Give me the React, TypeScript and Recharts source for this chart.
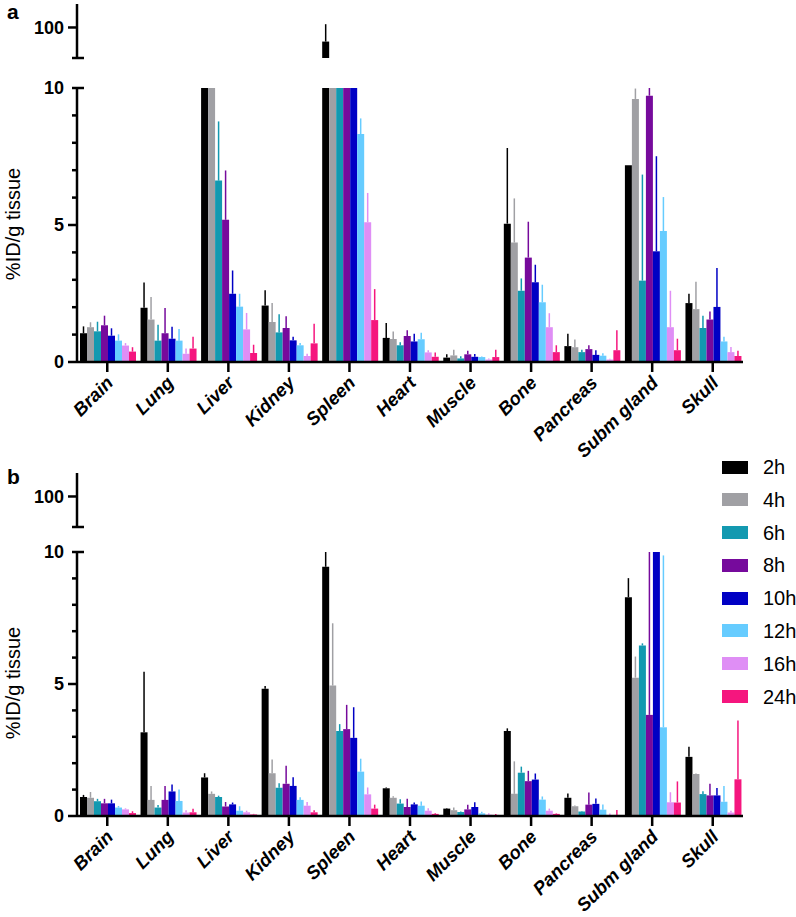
import React from 'react';
import { BarChart, Bar, XAxis, YAxis, ErrorBar, Legend } from 'recharts';

const organs = ['Brain', 'Lung', 'Liver', 'Kidney', 'Spleen', 'Heart', 'Muscle', 'Bone', 'Pancreas', 'Subm gland', 'Skull'];
const timepoints = ['2h', '4h', '6h', '8h', '10h', '12h', '16h', '24h'];
const seriesColors = ['#000000', '#a0a0a4', '#1399b0', '#760a9c', '#0000c4', '#66ccff', '#df8ef5', '#f5167e'];

const lowerTicks = [0, 1, 2, 3, 4, 5, 6, 7, 8, 9, 10];
const labeledTicks = [0, 5, 10];
const upperTicks = [74, 100];
const upperLabeled = [100];
const LOWER_MAX = 10;
const UPPER_MIN = 74;
const UPPER_MAX = 120;

// Panel a — means (%ID/g) per time point, organs in order
const a2h = [1.05, 1.98, 14, 2.06, 88, 0.88, 0.16, 5.05, 0.58, 7.18, 2.15];
const a4h = [1.27, 1.55, 12, 1.46, 16, 0.84, 0.24, 4.36, 0.54, 9.6, 1.93];
const a6h = [1.12, 0.78, 6.62, 1.08, 15, 0.61, 0.13, 2.6, 0.36, 2.97, 1.24];
const a8h = [1.34, 1.05, 5.19, 1.24, 14, 0.95, 0.28, 3.81, 0.47, 9.72, 1.55];
const a10h = [0.96, 0.85, 2.49, 0.79, 12, 0.75, 0.19, 2.91, 0.26, 4.04, 2.01];
const a12h = [0.78, 0.78, 2.02, 0.61, 8.32, 0.83, 0.18, 2.18, 0.23, 4.78, 0.75];
const a16h = [0.6, 0.3, 1.19, 0.22, 5.1, 0.35, 0.09, 1.27, 0.09, 1.27, 0.36];
const a24h = [0.38, 0.49, 0.33, 0.68, 1.53, 0.19, 0.18, 0.36, 0.43, 0.43, 0.22];
// Panel a — upper SD
const a2hSd = [0.25, 0.92, 0, 0.56, 14.8, 0.54, 0.12, 2.76, 0.45, 0, 0.34];
const a4hSd = [0.18, 0.82, 0, 0.69, 0, 0.27, 0.21, 1.61, 0.28, 0.38, 1.0];
const a6hSd = [0.35, 0.58, 2.16, 0.66, 0, 0.11, 0.08, 0.45, 0.09, 3.87, 0.45];
const a8hSd = [0.35, 0.92, 1.8, 0.43, 0, 0.21, 0.13, 1.31, 0.14, 0.5, 0.29];
const a10hSd = [0.27, 0.44, 0.85, 0.13, 0, 0.28, 0.1, 0.64, 0.17, 3.47, 1.42];
const a12hSd = [0.23, 0.42, 0.47, 0.08, 0.57, 0.24, 0.02, 0.64, 0.09, 1.24, 0.17];
const a16hSd = [0.09, 0.19, 0.6, 0.08, 1.07, 0.08, 0.04, 0.51, 0.03, 1.33, 0.19];
const a24hSd = [0.16, 0.43, 0.3, 0.72, 1.13, 0.16, 0.27, 0.25, 0.73, 0.42, 0.19];

// Panel b — means
const b2h = [0.72, 3.17, 1.46, 4.82, 9.44, 1.05, 0.28, 3.22, 0.69, 8.29, 2.24];
const b4h = [0.69, 0.61, 0.84, 1.62, 4.94, 0.69, 0.22, 0.84, 0.37, 5.24, 1.59];
const b6h = [0.56, 0.32, 0.72, 1.07, 3.22, 0.47, 0.15, 1.64, 0.17, 6.46, 0.83];
const b8h = [0.48, 0.61, 0.36, 1.22, 3.29, 0.34, 0.25, 1.32, 0.43, 3.83, 0.78];
const b10h = [0.48, 0.93, 0.44, 1.14, 2.96, 0.44, 0.34, 1.38, 0.46, 13, 0.78];
const b12h = [0.32, 0.57, 0.2, 0.61, 1.68, 0.39, 0.1, 0.62, 0.24, 3.36, 0.54];
const b16h = [0.25, 0.13, 0.14, 0.39, 0.82, 0.2, 0.05, 0.2, 0.04, 0.52, 0.13];
const b24h = [0.11, 0.14, 0.06, 0.14, 0.28, 0.08, 0.04, 0.08, 0.04, 0.51, 1.39];
// Panel b — upper SD
const b2hSd = [0.08, 2.29, 0.16, 0.1, 0.6, 0.03, 0.02, 0.1, 0.16, 0.72, 0.38];
const b4hSd = [0.22, 0.53, 0.09, 0.52, 2.36, 0.06, 0.1, 1.23, 0.03, 0.8, 0.02];
const b6hSd = [0.09, 0.1, 0.05, 0.17, 0.26, 0.16, 0.02, 0.23, 0.02, 0.08, 0.11];
const b8hSd = [0.17, 0.53, 0.17, 0.68, 0.92, 0.31, 0.18, 0.39, 0.46, 8.0, 0.44];
const b10hSd = [0.14, 0.26, 0.07, 0.33, 1.16, 0.07, 0.18, 0.23, 0.2, 0, 0.28];
const b12hSd = [0.06, 0.43, 0.17, 0.1, 0.49, 0.16, 0.06, 0.12, 0.2, 6.51, 0.6];
const b16hSd = [0.04, 0.09, 0.06, 0.14, 0.26, 0.09, 0.05, 0.08, 0.05, 0.38, 0.07];
const b24hSd = [0.07, 0.13, 0.02, 0.08, 0.15, 0.02, 0.04, 0.02, 0.19, 0.8, 2.23];

const panelA = { means: [a2h, a4h, a6h, a8h, a10h, a12h, a16h, a24h], sds: [a2hSd, a4hSd, a6hSd, a8hSd, a10hSd, a12hSd, a16hSd, a24hSd] };
const panelB = { means: [b2h, b4h, b6h, b8h, b10h, b12h, b16h, b24h], sds: [b2hSd, b4hSd, b6hSd, b8hSd, b10hSd, b12hSd, b16hSd, b24hSd] };

const FONT = '"Liberation Sans", Arial, Helvetica, sans-serif';

function lowerRows(p: { means: number[][]; sds: number[][] }) {
  return organs.map((organ, i) => {
    const row: any = { organ };
    timepoints.forEach((t, s) => {
      const v = p.means[s][i];
      const e = p.sds[s][i];
      const shown = Math.min(v, LOWER_MAX);
      const top = Math.min(v + e, LOWER_MAX);
      row['s' + s] = shown;
      row['e' + s] = [0, Math.max(0, top - shown)];
    });
    return row;
  });
}

function upperRows(p: { means: number[][]; sds: number[][] }) {
  return organs.map((organ, i) => {
    const row: any = { organ };
    timepoints.forEach((t, s) => {
      const v = p.means[s][i];
      const e = p.sds[s][i];
      if (v >= UPPER_MIN) {
        row['s' + s] = v;
        row['e' + s] = [0, e];
      } else {
        row['s' + s] = null;
      }
    });
    return row;
  });
}

const LowerYTick = (props: any) => {
  const { x, y, payload } = props;
  const v = payload.value;
  const labeled = labeledTicks.includes(v);
  const isTop = v === LOWER_MAX;
  return (
    <g>
      {isTop ? (
        <line x1={x - 5} x2={x + 7} y1={y} y2={y} stroke="#000" strokeWidth={2.5} />
      ) : (
        <line x1={x - (labeled ? 9 : 5)} x2={x} y1={y} y2={y} stroke="#000" strokeWidth={2.5} />
      )}
      {labeled && (
        <text x={x - 13} y={y} dy="0.36em" textAnchor="end" fontSize={18} fontWeight="bold" fontFamily={FONT} fill="#000">
          {v}
        </text>
      )}
    </g>
  );
};

const UpperYTick = (props: any) => {
  const { x, y, payload } = props;
  const v = payload.value;
  if (!upperLabeled.includes(v)) {
    return <line x1={x - 5} x2={x + 7} y1={y} y2={y} stroke="#000" strokeWidth={2.5} />;
  }
  return (
    <g>
      <line x1={x - 9} x2={x} y1={y} y2={y} stroke="#000" strokeWidth={2.5} />
      <text x={x - 13} y={y} dy="0.36em" textAnchor="end" fontSize={18} fontWeight="bold" fontFamily={FONT} fill="#000">
        {v}
      </text>
    </g>
  );
};

const XTick = (props: any) => {
  const { x, y, payload } = props;
  const tx = x + 7;
  const ty = y + 10;
  return (
    <text x={tx} y={ty} transform={`rotate(-45 ${tx} ${ty})`} textAnchor="end" fontSize={18.5} fontWeight="bold" fontStyle="italic" fontFamily={FONT} fill="#000">
      {payload.value}
    </text>
  );
};

const LegendContent = () => (
  <div style={{ fontFamily: FONT }}>
    {timepoints.map((t, s) => (
      <div key={t} style={{ display: 'flex', alignItems: 'center', height: 32.8 }}>
        <div style={{ width: 26, height: 13, background: seriesColors[s], marginRight: 15, flex: 'none' }} />
        <span style={{ fontSize: 20, color: '#000', lineHeight: '20px', whiteSpace: 'nowrap' }}>{t}</span>
      </div>
    ))}
  </div>
);

const bars = () =>
  timepoints.map((t, s) => (
    <Bar key={t} dataKey={'s' + s} name={t} fill={seriesColors[s]} isAnimationActive={false} legendType="rect">
      <ErrorBar dataKey={'e' + s} width={0} strokeWidth={1.5} stroke={seriesColors[s]} direction="y" />
    </Bar>
  ));

const Panel = ({ p, top, lowerTop, lowerHeight, xAxisHeight, upperHeight, upperMarginTop, showLegend }: any) => {
  const lower = lowerRows(p);
  const upper = upperRows(p);
  return (
    <>
      <div style={{ position: 'absolute', left: 0, top }}>
        <BarChart width={796} height={upperHeight} data={upper} margin={{ top: upperMarginTop, right: 53, bottom: upperHeight - upperMarginTop - 54, left: 0 }} barCategoryGap={3} barGap={0}>
          <XAxis dataKey="organ" hide />
          <YAxis
            width={77}
            domain={[UPPER_MIN, UPPER_MAX]}
            allowDataOverflow
            ticks={upperTicks}
            interval={0}
            tickLine={false}
            tickSize={0}
            tickMargin={0}
            axisLine={{ stroke: '#000', strokeWidth: 2.5 }}
            tick={<UpperYTick />}
          />
          {bars()}
        </BarChart>
      </div>
      <div style={{ position: 'absolute', left: 0, top }}>
        <BarChart width={796} height={lowerHeight} data={lower} margin={{ top: lowerTop, right: 53, bottom: 0, left: 0 }} barCategoryGap={3} barGap={0}>
          <XAxis
            dataKey="organ"
            interval={0}
            height={xAxisHeight}
            tickSize={10}
            tickMargin={2}
            axisLine={{ stroke: '#000', strokeWidth: 2.5 }}
            tickLine={{ stroke: '#000', strokeWidth: 2.5 }}
            tick={<XTick />}
          />
          <YAxis
            width={77}
            domain={[0, LOWER_MAX]}
            allowDataOverflow
            ticks={lowerTicks}
            interval={0}
            tickLine={false}
            tickSize={0}
            tickMargin={0}
            axisLine={{ stroke: '#000', strokeWidth: 2.5 }}
            tick={<LowerYTick />}
          />
          {bars()}
          {showLegend && (
            <Legend
              layout="vertical"
              align="center"
              verticalAlign="middle"
              content={<LegendContent />}
              wrapperStyle={{ left: 722, top: -9.4, width: 74 }}
            />
          )}
        </BarChart>
      </div>
    </>
  );
};

export default function App() {
  return (
    <div style={{ position: 'absolute', left: 0, top: 0, width: 796, height: 917, overflow: 'hidden', background: '#fff', fontFamily: FONT }}>
      <Panel p={panelA} top={0} lowerTop={88} lowerHeight={475} xAxisHeight={113} upperHeight={70} upperMarginTop={4} showLegend={false} />
      <Panel p={panelB} top={460} lowerTop={92} lowerHeight={457} xAxisHeight={101} upperHeight={80} upperMarginTop={13} showLegend={true} />
      <svg width={796} height={917} style={{ position: 'absolute', left: 0, top: 0, pointerEvents: 'none' }}>
        <text x={7} y={19} fontSize={21} fontWeight="bold" fontFamily={FONT} fill="#000">a</text>
        <text x={7} y={484} fontSize={21} fontWeight="bold" fontFamily={FONT} fill="#000">b</text>
        <text x={20} y={224} transform="rotate(-90 20 224)" textAnchor="middle" fontSize={20} fontFamily={FONT} fill="#000">%ID/g tissue</text>
        <text x={20} y={683} transform="rotate(-90 20 683)" textAnchor="middle" fontSize={20} fontFamily={FONT} fill="#000">%ID/g tissue</text>
      </svg>
    </div>
  );
}
